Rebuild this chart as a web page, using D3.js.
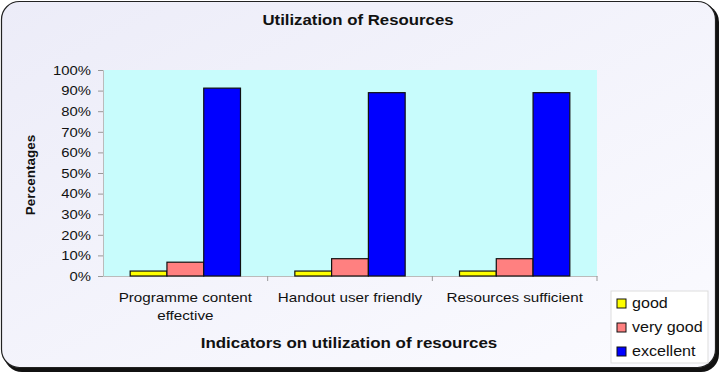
<!DOCTYPE html>
<html>
<head>
<meta charset="utf-8">
<script src="https://cdn.jsdelivr.net/npm/d3@7"></script>
<style>
  body { margin: 0; background: #ffffff; }
  text { font-family: "Liberation Sans", Arial, sans-serif; fill: #111; }
</style>
</head>
<body>
<div class="chart"></div>
<script>
let categories = ["Programme content effective", "Handout user friendly", "Resources sufficient"];
let seriesNames = ["good", "very good", "excellent"];
let seriesColors = ["#ffff00", "#ff8080", "#0000ff"];
let good = [2.4, 2.4, 2.4];
let veryGood = [6.7, 8.4, 8.4];
let excellent = [91.2, 89.0, 89.0];
let yTicks = [0, 10, 20, 30, 40, 50, 60, 70, 80, 90, 100];

let svgWidth = 721;
let svgHeight = 374;
let margin = { top: 70, left: 103, right: 124, bottom: 98 };
let width = svgWidth - margin.left - margin.right;
let height = svgHeight - margin.top - margin.bottom;
// the source picture is a bit stretched sideways
let sx = 1.13;

let svg = d3.select(".chart")
    .append("svg")
    .attr("width", svgWidth)
    .attr("height", svgHeight);

function wideText(parent, x, y, size, anchor, stretch) {
    return parent.append("g")
        .attr("transform", `translate(${x}, ${y}) scale(${stretch}, 1)`)
        .append("text")
        .attr("text-anchor", anchor)
        .style("font-size", size + "px");
}

let defs = svg.append("defs");
let grad = defs.append("linearGradient")
    .attr("id", "bg")
    .attr("x1", "0").attr("y1", "0").attr("x2", "1").attr("y2", "1");
grad.append("stop").attr("offset", "0%").attr("stop-color", "#ececf8");
grad.append("stop").attr("offset", "100%").attr("stop-color", "#fbfbff");

// shadow frame then the chart box
svg.append("rect")
    .attr("x", 4).attr("y", 4)
    .attr("width", 715).attr("height", 368)
    .attr("rx", 18)
    .attr("fill", "#111");
svg.append("rect")
    .attr("x", 1.5).attr("y", 1.5)
    .attr("width", 714).attr("height", 366)
    .attr("rx", 18)
    .attr("fill", "url(#bg)")
    .attr("stroke", "#222")
    .attr("stroke-width", 1.2);

wideText(svg, 358, 25, 15, "middle", 1.12)
    .style("font-weight", "bold")
    .text("Utilization of Resources");

let chartgroup = svg.append("g")
    .attr("transform", `translate(${margin.left}, ${margin.top})`);

chartgroup.append("rect")
    .attr("width", width)
    .attr("height", height)
    .attr("fill", "#c8fcfc");

let data = categories.map((c, i) => ({
    category: c,
    values: [good[i], veryGood[i], excellent[i]]
}));

let x0 = d3.scaleBand()
    .domain(categories)
    .range([0, width])
    .paddingInner(0)
    .paddingOuter(0);
let x1 = d3.scaleBand()
    .domain(seriesNames)
    .range([x0.bandwidth() * 0.165, x0.bandwidth() * 0.835])
    .padding(0);
let y = d3.scaleLinear()
    .domain([0, 100])
    .range([height, 0]);

let leftAxis = d3.axisLeft(y)
    .tickValues(yTicks)
    .tickSize(5)
    .tickFormat(d => d + "%");
let yAxis = chartgroup.append("g").call(leftAxis);
yAxis.select(".domain").attr("stroke", "#bbb");
yAxis.selectAll(".tick line").attr("stroke", "#999");
yAxis.selectAll(".tick text")
    .attr("transform", `scale(1.1, 1)`)
    .attr("x", -12 / 1.1)
    .style("font-size", "13.5px")
    .attr("fill", "#222");

let bottomAxis = d3.axisBottom(x0).tickSize(0).tickFormat("");
let xAxis = chartgroup.append("g")
    .attr("transform", `translate(0, ${height})`)
    .call(bottomAxis);
xAxis.select(".domain").attr("stroke", "#bbb");
// tick marks at category boundaries
chartgroup.selectAll(".boundary")
    .data(categories)
    .enter()
    .append("line")
    .attr("x1", d => x0(d) + x0.bandwidth())
    .attr("x2", d => x0(d) + x0.bandwidth())
    .attr("y1", height)
    .attr("y2", height + 5)
    .attr("stroke", "#999");

let groups = chartgroup.selectAll(".cat")
    .data(data)
    .enter()
    .append("g")
    .attr("transform", d => `translate(${x0(d.category)}, 0)`);
groups.selectAll("rect")
    .data(d => d.values.map((v, i) => ({ key: seriesNames[i], value: v, color: seriesColors[i] })))
    .enter()
    .append("rect")
    .attr("x", d => x1(d.key))
    .attr("y", d => y(d.value))
    .attr("width", x1.bandwidth())
    .attr("height", d => height - y(d.value))
    .attr("fill", d => d.color)
    .attr("stroke", "#111")
    .attr("stroke-width", 1.2);

// category labels
let labelLines = [["Programme content", "effective"], ["Handout user friendly"], ["Resources sufficient"]];
categories.forEach((c, i) => {
    let t = wideText(chartgroup, x0(c) + x0.bandwidth() / 2, height + 26, 13, "middle", 1.17)
        .attr("fill", "#222");
    labelLines[i].forEach((line, j) => {
        t.append("tspan")
            .attr("x", 0)
            .attr("dy", j === 0 ? 0 : 18)
            .text(line);
    });
});

wideText(svg, 349, 348, 15, "middle", sx)
    .style("font-weight", "bold")
    .text("Indicators on utilization of resources");

svg.append("text")
    .attr("transform", "translate(35, 175) rotate(-90)")
    .attr("text-anchor", "middle")
    .style("font-size", "13.5px")
    .style("font-weight", "bold")
    .text("Percentages");

// legend
let legend = svg.append("g").attr("transform", "translate(611, 291)");
legend.append("rect")
    .attr("width", 97)
    .attr("height", 72)
    .attr("fill", "#ffffff")
    .attr("stroke", "#ddd");
seriesNames.forEach((s, i) => {
    legend.append("rect")
        .attr("x", 6)
        .attr("y", 8 + i * 24)
        .attr("width", 9)
        .attr("height", 9)
        .attr("fill", seriesColors[i])
        .attr("stroke", "#111");
    wideText(legend, 21, 17 + i * 24, 14, "start", 1.15)
        .attr("fill", "#222")
        .text(s);
});
</script>
</body>
</html>
